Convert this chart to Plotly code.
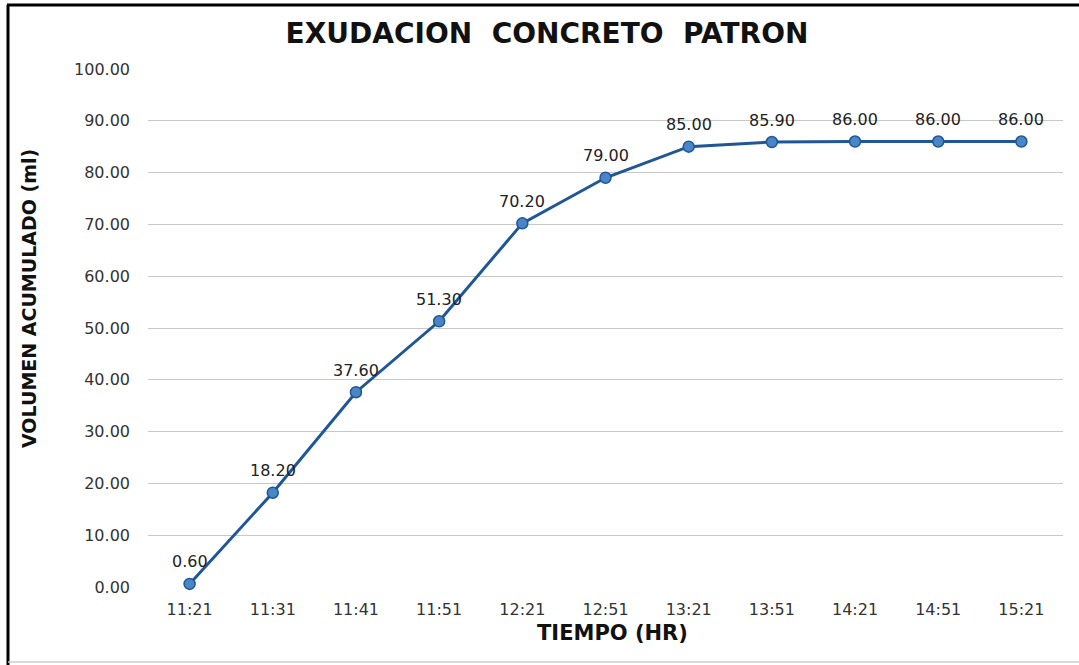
import plotly.graph_objects as go

times = ["11:21", "11:31", "11:41", "11:51", "12:21", "12:51", "13:21", "13:51", "14:21", "14:51", "15:21"]
volumen = [0.60, 18.20, 37.60, 51.30, 70.20, 79.00, 85.00, 85.90, 86.00, 86.00, 86.00]
y_ticks = [0, 10, 20, 30, 40, 50, 60, 70, 80, 90, 100]

W, H = 1079, 665
L, R, T, B = 148, 16, 69, 78
pw, ph = W - L - R, H - T - B

def px(x):
    return (x - L) / pw

def py(y):
    return (H - B - y) / ph

xs = list(range(len(times)))

fig = go.Figure()
fig.add_trace(go.Scatter(
    x=xs, y=volumen,
    mode="lines+markers",
    line=dict(color="#1f5796", width=3),
    marker=dict(size=11, color="#4a86c6", line=dict(color="#1f5796", width=1.5)),
    cliponaxis=False,
    hoverinfo="skip",
))

annotations = [
    dict(text=f"{v:.2f}", x=x, y=v, xref="x", yref="y", showarrow=False,
         yshift=22, xanchor="center", yanchor="middle",
         font=dict(family="DejaVu Sans", size=16, color="#222222"))
    for x, v in zip(xs, volumen)
]
annotations += [
    dict(text="<b>TIEMPO (HR)</b>", xref="paper", yref="paper", x=px(612), y=py(633),
         showarrow=False, xanchor="center", yanchor="middle",
         font=dict(family="DejaVu Sans", size=21, color="#111111")),
    dict(text="<b>VOLUMEN ACUMULADO (ml)</b>", xref="paper", yref="paper", x=px(29), y=py(298),
         showarrow=False, xanchor="center", yanchor="middle", textangle=-90,
         font=dict(family="DejaVu Sans", size=19, color="#111111")),
]

fig.update_layout(
    width=W, height=H,
    margin=dict(l=L, r=R, t=T, b=B),
    paper_bgcolor="white", plot_bgcolor="white",
    showlegend=False,
    title=dict(text="<b>EXUDACION  CONCRETO  PATRON</b>", x=547 / W, xanchor="center",
               y=1 - 33 / H, yanchor="middle",
               font=dict(family="DejaVu Sans", size=28, color="#111111")),
    xaxis=dict(
        tickmode="array", tickvals=xs, ticktext=times,
        range=[-0.5, len(times) - 0.5],
        showgrid=False, zeroline=False, showline=False, ticks="",
        tickfont=dict(family="DejaVu Sans", size=16, color="#333333"),
        ticklabelstandoff=11,
    ),
    yaxis=dict(
        range=[0, 100], tickvals=y_ticks, ticktext=[f"{v:.2f}" for v in y_ticks],
        showgrid=True, gridcolor="#c8c8c8", gridwidth=1, zeroline=False,
        showline=False, ticks="",
        tickfont=dict(family="DejaVu Sans", size=16, color="#333333"),
        ticklabelstandoff=17,
    ),
    annotations=annotations,
    shapes=[
        dict(type="line", xref="paper", yref="paper", x0=px(7), x1=px(1079), y0=py(5), y1=py(5),
             line=dict(color="#000000", width=3)),
        dict(type="line", xref="paper", yref="paper", x0=px(8), x1=px(8), y0=py(5), y1=py(665),
             line=dict(color="#000000", width=3)),
        dict(type="line", xref="paper", yref="paper", x0=px(8), x1=px(1079), y0=py(662), y1=py(662),
             line=dict(color="#cccccc", width=1.5)),
    ],
)

fig.write_html("out.html", config={"displayModeBar": False},
               post_script="document.body.style.margin='0';")
